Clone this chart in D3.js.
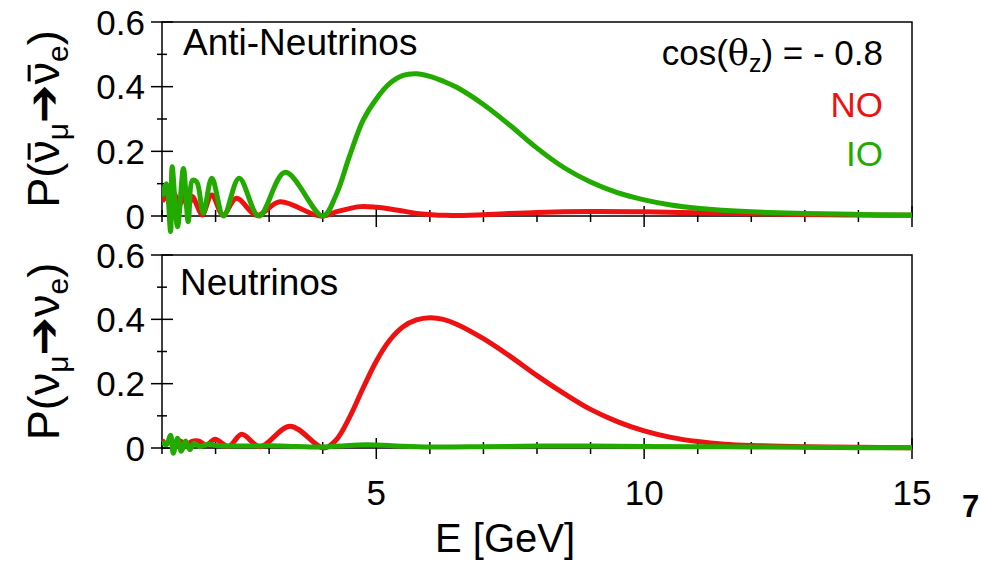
<!DOCTYPE html>
<html><head><meta charset="utf-8">
<script src="https://cdn.jsdelivr.net/npm/d3@7"></script>
<style>
html,body{margin:0;padding:0;background:#fff;}
text{font-family:"Liberation Sans",Arial,sans-serif;}
</style></head>
<body>
<svg id="c" width="981" height="561"></svg>
<script>
// ---- data ----
const xTicksMajor = [5, 10, 15];
const xTicksAll = [1,2,3,4,5,6,7,8,9,10,11,12,13,14,15];
const yTicksMajor = [0, 0.2, 0.4, 0.6];
const yTicksMinor = [0.1, 0.3, 0.5];
const yTickLabels = ["0", "0.2", "0.4", "0.6"];

// Anti-neutrinos, IO (green)
const antiIO_E = [1.00,1.08,1.16,1.19,1.29,1.40,1.49,1.57,1.65,1.77,1.93,2.15,2.44,2.81,3.30,4.00,4.25,4.5,4.75,5.0,5.25,5.5,5.75,6.0,6.25,6.5,7.0,7.5,8.0,8.5,9.0,9.5,10,10.5,11,12,13,14,15];
const antiIO_P = [0.06,0.10,-0.048,0.152,-0.033,0.147,-0.018,0.11,0.105,0.009,0.117,0.0,0.117,0.0,0.135,0.0,0.065,0.185,0.295,0.362,0.41,0.435,0.44,0.432,0.417,0.398,0.345,0.28,0.21,0.15,0.105,0.072,0.05,0.034,0.024,0.013,0.008,0.005,0.003];
// Anti-neutrinos, NO (red)
const antiNO_E = [1.00,1.08,1.16,1.24,1.32,1.40,1.48,1.57,1.66,1.75,1.93,2.14,2.39,2.77,3.20,3.95,4.3,4.7,5.0,5.4,5.8,6.3,7,8,9,10,11,12,13,14,15];
const antiNO_P = [0.045,0.06,0.03,0.065,0.03,0.065,0.025,0.06,0.03,0.003,0.065,0.003,0.055,0.002,0.044,0.0,0.015,0.029,0.027,0.018,0.007,0.002,0.004,0.011,0.014,0.013,0.010,0.007,0.005,0.003,0.002];
// Neutrinos, NO (red)
const nuNO_E = [1.0,1.08,1.16,1.25,1.34,1.44,1.55,1.68,1.83,1.99,2.24,2.49,2.83,3.39,4.02,4.25,4.5,4.75,5.0,5.25,5.5,5.75,6.0,6.25,6.5,7.0,7.5,8.0,8.5,9.0,9.5,10,10.5,11,11.5,12,13,14,15];
const nuNO_P = [0.025,0.012,0.024,0.008,0.022,0.007,0.02,0.022,0.009,0.027,0.005,0.043,0.004,0.068,0.0,0.025,0.095,0.185,0.27,0.335,0.377,0.398,0.405,0.40,0.385,0.34,0.285,0.225,0.17,0.12,0.082,0.053,0.033,0.02,0.012,0.008,0.004,0.002,0.001];
// Neutrinos, IO (green)
const nuIO_E = [1.0,1.08,1.16,1.21,1.29,1.36,1.44,1.52,1.6,1.7,1.85,2.0,2.5,3.0,3.5,4.0,4.5,4.85,5.3,6,7,8,9,10,11,12,13,14,15];
const nuIO_P = [0.02,0.01,0.04,-0.016,0.03,-0.01,0.022,-0.005,0.015,0.004,0.012,0.008,0.006,0.007,0.005,0.003,0.008,0.01,0.007,0.003,0.004,0.006,0.006,0.005,0.004,0.003,0.002,0.001,0.001];

const RED = "#ee1111", GREEN = "#22aa00";

// ---- layout ----
const svg = d3.select("#c");
const X0 = 162, X1 = 912;
const x = d3.scaleLinear().domain([1, 15]).range([X0, X1]);
const panels = [
  {top: 22, bottom: 216, label: "Anti-Neutrinos", labelY: 55, labelX: 183,
   series: [[antiNO_E, antiNO_P, RED], [antiIO_E, antiIO_P, GREEN]], anti: true},
  {top: 255, bottom: 448, label: "Neutrinos", labelY: 295, labelX: 180,
   series: [[nuNO_E, nuNO_P, RED], [nuIO_E, nuIO_P, GREEN]], anti: false}
];

panels.forEach((p, i) => {
  const y = d3.scaleLinear().domain([0, 0.6]).range([p.bottom, p.top]);
  const g = svg.append("g");
  const clipId = "clip" + i;
  svg.append("clipPath").attr("id", clipId).append("rect")
     .attr("x", X0).attr("y", p.top).attr("width", X1 - X0).attr("height", p.bottom - p.top + 20);

  // frame
  g.append("rect").attr("x", X0).attr("y", p.top).attr("width", X1 - X0).attr("height", p.bottom - p.top)
   .attr("fill", "none").attr("stroke", "#000").attr("stroke-width", 1.5);

  // y ticks
  yTicksMajor.forEach(v => g.append("line").attr("x1", X0 - 11).attr("x2", X0 + 11)
     .attr("y1", y(v)).attr("y2", y(v)).attr("stroke", "#000").attr("stroke-width", 1.5));
  yTicksMinor.forEach(v => g.append("line").attr("x1", X0 - 5).attr("x2", X0 + 5)
     .attr("y1", y(v)).attr("y2", y(v)).attr("stroke", "#000").attr("stroke-width", 1.5));
  yTicksMajor.forEach((v, k) => g.append("text").attr("x", 145).attr("y", y(v)).attr("dy", "0.36em")
     .attr("text-anchor", "end").attr("font-size", 35).text(yTickLabels[k]));

  // x ticks
  xTicksAll.forEach(v => {
    const big = xTicksMajor.includes(v);
    g.append("line").attr("x1", x(v)).attr("x2", x(v))
     .attr("y1", p.bottom - (big ? 10 : 6)).attr("y2", p.bottom + (big ? 11 : 6))
     .attr("stroke", "#000").attr("stroke-width", 1.5);
  });

  // curves
  const line = d3.line().x(d => x(d[0])).y(d => y(d[1])).curve(d3.curveCatmullRom.alpha(0.5));
  p.series.forEach(([E, P, col]) => {
    g.append("path").datum(E.map((e, k) => [e, P[k]]))
     .attr("d", line).attr("fill", "none").attr("stroke", col).attr("stroke-width", 5)
     .attr("stroke-linejoin", "round").attr("clip-path", "url(#" + clipId + ")");
  });

  // panel label
  g.append("text").attr("x", p.labelX).attr("y", p.labelY).attr("font-size", 37).text(p.label);

  // y axis title
  const cy = (p.top + p.bottom) / 2;
  const fs = 45;
  const tg = g.append("g").attr("transform", `translate(59,${cy}) rotate(-90)`);
  const t = tg.append("text").attr("text-anchor", "middle").attr("font-size", fs);
  t.append("tspan").text("P(");
  t.append("tspan").text("ν");
  t.append("tspan").attr("font-size", 30).attr("dy", 9).text("μ");
  t.append("tspan").attr("dy", -9).attr("font-family", "DejaVu Sans").attr("font-weight", "bold")
     .attr("font-size", 46).text("➔");
  t.append("tspan").text("ν");
  t.append("tspan").attr("font-size", 30).attr("dy", 9).text("e");
  t.append("tspan").attr("dy", -9).text(")");
  if (p.anti) {
    [2, 5].forEach(idx => {
      const ext = t.node().getExtentOfChar(idx);
      tg.append("line").attr("x1", ext.x + 3).attr("x2", ext.x + ext.width - 3)
        .attr("y1", -0.53 * fs - 6).attr("y2", -0.53 * fs - 6)
        .attr("stroke", "#000").attr("stroke-width", 3);
    });
  }
});

// x tick labels
xTicksMajor.forEach(v => svg.append("text").attr("x", x(v)).attr("y", 505)
   .attr("text-anchor", "middle").attr("font-size", 35).text(v));
svg.append("text").attr("x", 505).attr("y", 552).attr("text-anchor", "middle")
   .attr("font-size", 40).text("E [GeV]");
svg.append("text").attr("x", 962).attr("y", 517).attr("font-size", 31).attr("font-weight", "bold").text("7");

// legend
const lg = svg.append("text").attr("x", 883).attr("y", 65).attr("text-anchor", "end").attr("font-size", 35);
lg.append("tspan").text("cos(");
lg.append("tspan").attr("font-family", "DejaVu Serif").text("θ");
lg.append("tspan").attr("font-size", 25).attr("dy", 7).text("z");
lg.append("tspan").attr("dy", -7).text(") = - 0.8");
svg.append("text").attr("x", 883).attr("y", 117).attr("text-anchor", "end").attr("font-size", 35).attr("fill", RED).text("NO");
svg.append("text").attr("x", 883).attr("y", 166).attr("text-anchor", "end").attr("font-size", 35).attr("fill", GREEN).text("IO");
</script>
</body></html>
